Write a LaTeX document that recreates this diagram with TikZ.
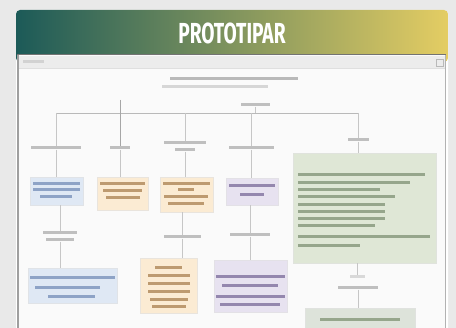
\documentclass[tikz,border=0pt]{standalone}
\usepackage{fontspec}
\newfontfamily\headfont[FakeStretch=0.66]{Fira Sans}
\definecolor{pagebg}{HTML}{E9E9E9}
\definecolor{headl}{HTML}{1C5A58}
\definecolor{headm}{HTML}{7E9C61}
\definecolor{headr}{HTML}{E4CD63}
\definecolor{shotbg}{HTML}{FAFAFA}
\definecolor{bluebox}{HTML}{DFE8F4}
\definecolor{bluetxt}{HTML}{8EA3C6}
\definecolor{peachbox}{HTML}{FBEBD3}
\definecolor{peachtxt}{HTML}{BD9A70}
\definecolor{lilacbox}{HTML}{E7E2F0}
\definecolor{lilactxt}{HTML}{9487AE}
\definecolor{greenbox}{HTML}{DFE7D6}
\definecolor{greentxt}{HTML}{96A68C}
\definecolor{greybox}{HTML}{DDE3DA}
\newcommand\txtbar[3]{\fill (#1,#3-1.5) rectangle (#2,#3+1.5);}
\begin{document}
\begin{tikzpicture}[x=1pt,y=-1pt,
  box/.style={draw=#1!80!black!40, fill=#1, line width=0.4pt, inner sep=0pt, anchor=north west},
  lab/.style={fill=gray!50, inner sep=0pt, minimum height=3pt},
  wire/.style={draw=gray!45, line width=0.5pt}]
\useasboundingbox (0,0) rectangle (456,328);
\clip (0,0) rectangle (456,328);
\fill[pagebg] (0,0) rectangle (456,328);
\fill[white, rounded corners=4pt] (16,10) rectangle (448,345);
\shade[left color=headl, middle color=headm, right color=headr, rounded corners=4pt] (16,10) rectangle (448,62);
\node[text=white, font=\headfont\bfseries\fontsize{29}{32}\selectfont, inner sep=0pt] (title) at (232,33) {PROTOTIPAR};
\fill[shotbg] (17,55) rectangle (446,345);
\fill[black!55] (17,54.5) rectangle (446,55.5);
\draw[gray!75, line width=1.6pt] (17.8,55) -- (17.8,345);
\draw[gray!60, line width=1pt] (445.5,55) -- (445.5,345);
\fill[gray!15] (19,56) rectangle (445,68);
\fill[gray!35] (23,60) rectangle (44,63);
\draw[gray!55, line width=0.6pt] (436,59) rectangle (443,66);
\fill[gray!25] (19,68) rectangle (445,69);
% page heading
\fill[gray!55] (170,77.5) rectangle (298,80.5);
\fill[gray!32] (162,85.5) rectangle (268,88.5);
% tree
\node[lab, minimum width=29pt] (root) at (255,105) {};
\coordinate (hub) at (255,113);
\node[lab, minimum width=50pt] (c1) at (56,148) {};
\node[lab, minimum width=20pt] (c2) at (120,148) {};
\node[lab, minimum width=42pt] (c3t) at (185,143) {};
\node[lab, minimum width=20pt] (c3) at (185,150) {};
\node[lab, minimum width=45pt] (c4) at (251,148) {};
\node[lab, minimum width=21pt] (c5) at (358,140) {};
\draw[wire] (root) -- (hub);
\draw[wire, draw=gray!55] (c1 |- hub) -- (c5 |- hub);
\foreach \n in {c1,c2,c3t,c4,c5}
  \draw[wire] (\n |- hub) -- (\n);
\draw[gray!70, line width=0.7pt] (120,100) -- (c2);
\node[box=bluebox, minimum width=53pt, minimum height=28pt] (b1) at (30,177) {};
\node[box=peachbox, minimum width=51pt, minimum height=33pt] (b2) at (97,177) {};
\node[box=peachbox, minimum width=53pt, minimum height=35pt] (b3) at (160,177) {};
\node[box=lilacbox, minimum width=52pt, minimum height=27pt] (b4) at (226,178) {};
\node[box=greenbox, minimum width=143pt, minimum height=110pt] (g) at (293,153) {};
\draw[wire] (c1) -- (c1 |- b1.north);
\draw[wire] (c2) -- (c2 |- b2.north);
\draw[wire] (c3) -- (c3 |- b3.north);
\draw[wire] (c4) -- (c4 |- b4.north);
\draw[wire] (c5) -- (c5 |- g.north);
\begin{scope}[bluetxt]
\txtbar{33}{80}{184} \txtbar{33}{80}{190} \txtbar{40}{72}{197}
\end{scope}
\begin{scope}[peachtxt]
\txtbar{100}{145}{184} \txtbar{103}{142}{191} \txtbar{106}{140}{198}
\txtbar{163}{210}{184} \txtbar{178}{194}{190} \txtbar{164}{208}{197} \txtbar{168}{204}{204}
\end{scope}
\begin{scope}[lilactxt]
\txtbar{229}{275}{186} \txtbar{240}{264}{195}
\end{scope}
\begin{scope}[greentxt]
\txtbar{298}{425}{175} \txtbar{298}{410}{183} \txtbar{298}{380}{190}
\txtbar{298}{395}{197} \txtbar{298}{385}{205} \txtbar{298}{385}{212}
\txtbar{298}{385}{219} \txtbar{298}{375}{226} \txtbar{298}{430}{237}
\txtbar{298}{360}{246}
\end{scope}
% second level
\node[lab, minimum width=34pt] (l1t) at (60,233) {};
\node[lab, minimum width=28pt] (l1) at (60,240) {};
\node[lab, minimum width=37pt] (l3) at (182,237) {};
\node[lab, minimum width=40pt] (l4) at (250,235) {};
\node[lab, minimum width=15pt, fill=gray!30] (m5) at (357,277) {};
\node[lab, minimum width=40pt] (l5) at (358,288) {};
\draw[wire] (l1 |- b1.south) -- (l1t);
\draw[wire] (l3 |- b3.south) -- (l3);
\draw[wire] (l4 |- b4.south) -- (l4);
\draw[wire] (m5 |- g.south) -- (m5);
\node[box=bluebox, minimum width=89pt, minimum height=35pt] (d1) at (28,268) {};
\node[box=peachbox, minimum width=57pt, minimum height=55pt] (d3) at (140,258) {};
\node[box=lilacbox, minimum width=73pt, minimum height=52pt] (d4) at (214,260) {};
\node[box=greybox, minimum width=110pt, minimum height=30pt] (e) at (305,308) {};
\draw[wire] (l1) -- (l1 |- d1.north);
\draw[wire] (l3) -- (l3 |- d3.north);
\draw[wire] (l4) -- (l4 |- d4.north);
\draw[wire] (l5) -- (l5 |- e.north);
\begin{scope}[bluetxt]
\txtbar{30}{115}{278} \txtbar{35}{100}{288} \txtbar{48}{95}{297}
\end{scope}
\begin{scope}[peachtxt]
\txtbar{155}{182}{268} \txtbar{148}{190}{276} \txtbar{148}{190}{284}
\txtbar{148}{190}{292} \txtbar{150}{188}{300} \txtbar{152}{186}{307}
\end{scope}
\begin{scope}[lilactxt]
\txtbar{216}{285}{277} \txtbar{222}{278}{286} \txtbar{216}{285}{297} \txtbar{220}{280}{305}
\end{scope}
\begin{scope}[greentxt]
\txtbar{320}{400}{320}
\end{scope}
\end{tikzpicture}
\end{document}
